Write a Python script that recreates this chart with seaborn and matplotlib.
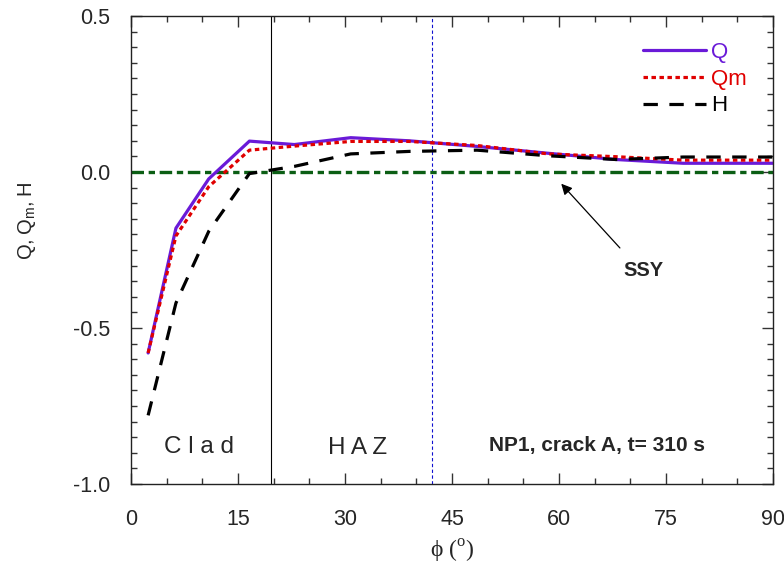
import matplotlib
matplotlib.use("Agg")
import matplotlib.pyplot as plt
import matplotlib.ticker as mticker
import numpy as np
import pandas as pd
import seaborn as sns

# crack-front angle (deg) and constraint parameters
phi = [2.4, 6.3, 10.9, 16.6, 22.9, 30.8, 39.0, 48.5, 58.5, 68.0, 77.4, 90.0]
q_vals = [-0.58, -0.18, -0.022, 0.099, 0.088, 0.110, 0.100, 0.082, 0.060, 0.040, 0.028, 0.028]
qm_vals = [-0.58, -0.205, -0.047, 0.070, 0.083, 0.098, 0.098, 0.085, 0.058, 0.049, 0.038, 0.038]
h_vals = [-0.78, -0.42, -0.19, -0.005, 0.018, 0.058, 0.066, 0.070, 0.052, 0.040, 0.048, 0.048]

series_names = ["Q", "Qm", "H"]
series_colors = {"Q": "#6a1ad8", "Qm": "#e00000", "H": "#000000"}
series_dashes = {"Q": "", "Qm": (1.4, 1.1), "H": (4.5, 3.6)}

clad_haz_boundary = 19.6
crack_tip_angle = 42.2
ssy_level = 0.0

df = pd.DataFrame({
    "phi": phi * 3,
    "value": q_vals + qm_vals + h_vals,
    "series": ["Q"] * len(phi) + ["Qm"] * len(phi) + ["H"] * len(phi),
})

sns.set_theme(style="ticks")
plt.rcParams["font.family"] = ["Liberation Sans", "DejaVu Sans"]
plt.rcParams["axes.unicode_minus"] = False
plt.rcParams["mathtext.fontset"] = "custom"
plt.rcParams["mathtext.rm"] = "Liberation Serif"
plt.rcParams["mathtext.sf"] = "Liberation Sans"

fig = plt.figure(figsize=(7.84, 5.64), dpi=100)
ax = fig.add_axes([131 / 784, 80 / 564, 642 / 784, 468 / 564])

sns.lineplot(data=df, x="phi", y="value", hue="series", style="series",
             hue_order=series_names, style_order=series_names,
             palette=series_colors, dashes=series_dashes,
             sort=False, estimator=None, linewidth=2.3, legend=False, ax=ax)

# SSY reference level
ssy = ax.axhline(ssy_level, color="#0b5e14", lw=2.4, zorder=1)
ssy.set_dashes((3.75, 1.4, 1.9, 1.4))

# region boundary and crack-tip position
ax.axvline(clad_haz_boundary, color="black", lw=0.8, zorder=0.5)
tip = ax.axvline(crack_tip_angle, color="#1010d0", lw=0.8, zorder=0.5)
tip.set_dashes((3.0, 2.2))

ax.set_xlim(0, 90)
ax.set_ylim(-1.0, 0.5)
ax.xaxis.set_major_locator(mticker.MultipleLocator(15))
ax.xaxis.set_minor_locator(mticker.MultipleLocator(5))
ax.yaxis.set_major_locator(mticker.MultipleLocator(0.5))
ax.yaxis.set_minor_locator(mticker.MultipleLocator(0.05))
ax.yaxis.set_major_formatter(mticker.FormatStrFormatter("%.1f"))
ax.tick_params(which="both", direction="in", top=True, right=True, color="#333333", width=1)
ax.tick_params(which="major", length=8, labelsize=15.5)
ax.tick_params(which="minor", length=4)
ax.tick_params(axis="x", which="major", pad=18)
ax.tick_params(axis="y", which="major", pad=15)
for s in ax.spines.values():
    s.set_linewidth(1.0)
    s.set_color("#222222")

ax.set_xlabel("ϕ ($^{\\mathrm{o}}$)", fontsize=17, family="Liberation Serif", labelpad=6)
ax.set_ylabel("Q,\u2009Q$_\\mathsf{m}$,\u2009H", fontsize=14.5)
ax.yaxis.set_label_coords(-0.145, 0.562)

lines = ax.get_lines()[:3]
leg = ax.legend(lines, series_names, loc="upper left", frameon=False,
                bbox_to_anchor=(634 / 784, 1 - 33 / 564), bbox_transform=fig.transFigure,
                borderaxespad=0, fontsize=16, handlelength=2.84, handletextpad=0.22,
                labelspacing=0.26)
for txt, name in zip(leg.get_texts(), series_names):
    txt.set_color(series_colors[name])

ax.text(9.5, -0.88, "C l a d", fontsize=17.5, ha="center", va="center")
ax.text(31.8, -0.886, "H A Z", fontsize=17.5, ha="center", va="center")
ax.text(65.3, -0.875, "NP1, crack A, t= 310 s", fontsize=15, fontweight="bold",
        ha="center", va="center")
ax.annotate("", xy=(60.05, -0.031), xytext=(68.8, -0.25),
            arrowprops=dict(arrowstyle="-|>", color="black", lw=0.9, mutation_scale=16))
ax.text(71.8, -0.317, "SSY", fontsize=14.5, fontweight="bold", ha="center", va="center")

fig.savefig("out.png", dpi=100)
